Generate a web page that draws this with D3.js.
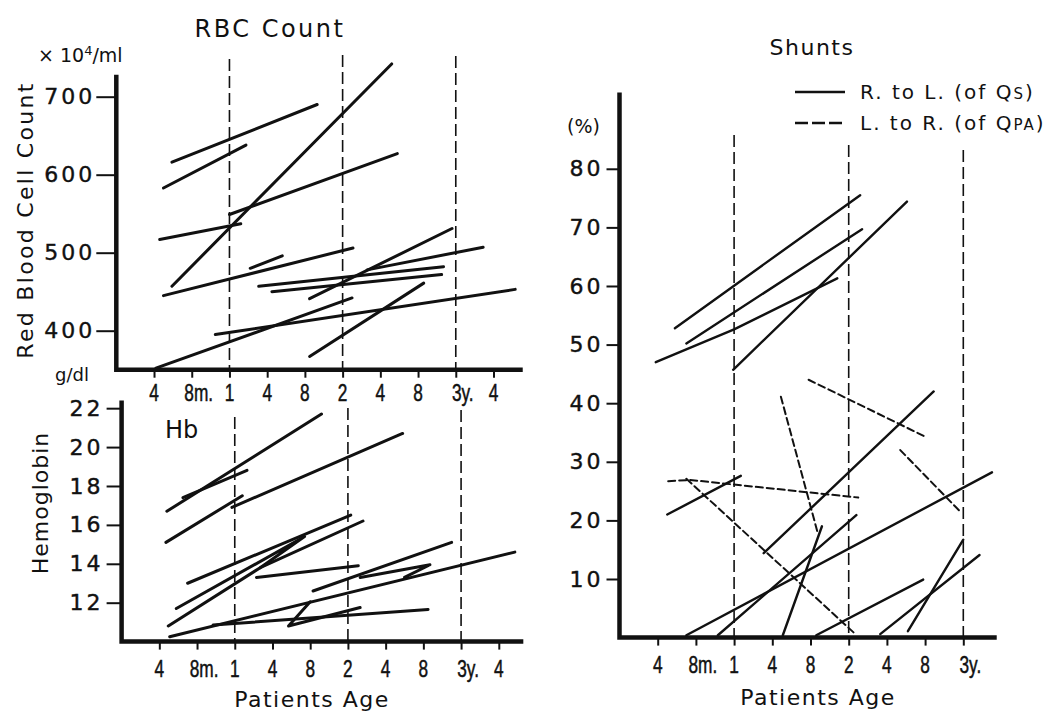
<!DOCTYPE html>
<html>
<head>
<meta charset="utf-8">
<script src="https://cdn.jsdelivr.net/npm/d3@7"></script>
<style>
body { margin: 0; background: #fff; }
</style>
</head>
<body>
<svg width="1059" height="712"></svg>
<script>
var svg = d3.select('svg');

// ages in months, ticks every 4 months
var ageTicks = [4, 8, 12, 16, 20, 24, 28, 32, 36, 40];
var ageLabels = ['4', '8m.', '1', '4', '8', '2', '4', '8', '3y.', '4'];
var yearLines = [12, 24, 36];

// RBC count (x10^4/ml), one polyline per patient: [month, value]
var rbcTicks = [400, 500, 600, 700];
var rbcPatients = [
    [[5.9, 616], [21.3, 690]],
    [[5.0, 583], [13.75, 638]],
    [[5.9, 457], [29.2, 742]],
    [[12.0, 549], [29.8, 627]],
    [[4.6, 517], [13.2, 537]],
    [[5.0, 445], [25.1, 506]],
    [[14.2, 480], [17.6, 496]],
    [[15.1, 457], [34.7, 482]],
    [[16.5, 450], [34.5, 472]],
    [[20.5, 441], [35.6, 531]],
    [[26.6, 478], [38.9, 507]],
    [[10.5, 395], [42.3, 453]],
    [[4.2, 352], [25.0, 442]],
    [[20.5, 367], [32.6, 461]]
];

// Hemoglobin (g/dl)
var hbTicks = [12, 14, 16, 18, 20, 22];
var hbPatients = [
    [[4.8, 16.7], [21.2, 21.7]],
    [[6.5, 17.4], [13.3, 18.8]],
    [[4.7, 15.1], [12.8, 17.5]],
    [[11.7, 16.9], [29.8, 20.7]],
    [[7.0, 13.0], [24.3, 16.5]],
    [[5.8, 11.7], [19.4, 15.4], [14.7, 13.8]],
    [[4.95, 10.8], [14.7, 13.8], [25.6, 16.2]],
    [[14.3, 13.3], [25.1, 13.9]],
    [[20.3, 12.6], [35.0, 15.1]],
    [[5.1, 10.25], [41.7, 14.6]],
    [[9.7, 10.85], [32.5, 11.65]],
    [[20.0, 12.05], [17.7, 10.8], [25.3, 11.75]],
    [[25.3, 13.3], [32.7, 13.95], [30.0, 13.3]]
];

// Shunts (%)
var shuntTicks = [10, 20, 30, 40, 50, 60, 70, 80];
var rlShunts = [
    [[5.8, 52.8], [25.2, 75.5]],
    [[7.0, 50.2], [25.4, 69.7]],
    [[3.8, 47.0], [12.0, 52.6], [22.8, 61.3]],
    [[11.9, 45.7], [30.1, 74.4]],
    [[5.0, 21.0], [12.7, 27.6]],
    [[15.1, 14.4], [32.9, 42.0]],
    [[7.0, 0.4], [39.0, 28.2]],
    [[10.3, 0.4], [24.8, 20.9]],
    [[17.1, 0.4], [21.2, 19.0]],
    [[20.6, 0.4], [31.8, 9.9]],
    [[27.3, 0.6], [37.7, 14.1]],
    [[30.2, 1.1], [36.0, 16.7]]
];
var lrShunts = [
    [[5.1, 26.7], [7.4, 26.9], [25.0, 23.9]],
    [[7.0, 27.1], [24.7, 0.6]],
    [[16.9, 41.1], [20.7, 18.2]],
    [[19.8, 44.0], [32.0, 34.3]],
    [[29.4, 32.0], [35.8, 21.3]]
];

var ink = '#111';
var sans = 'DejaVu Sans, Verdana, sans-serif';
var narrow = 'Liberation Sans, Arial, sans-serif';

function drawPanel(p) {
    var x = d3.scaleLinear().domain([0, p.xMax]).range([p.x0, p.x0 + p.xMax * p.pxMonth]);
    var y = d3.scaleLinear().domain(p.yDomain).range(p.yRange);
    var g = svg.append('g');
    var bottom = y(p.yDomain[0]);

    // dashed year guides
    g.selectAll('.guide')
        .data(yearLines)
        .enter()
        .append('line')
        .attr('x1', function(d){ return x(d); })
        .attr('x2', function(d){ return x(d); })
        .attr('y1', function(d, i){ return p.guideTop[i]; })
        .attr('y2', bottom)
        .attr('stroke', ink)
        .attr('stroke-width', 1.6)
        .attr('stroke-dasharray', '12,5');

    // y axis ticks and labels
    var yAxis = d3.axisLeft(y).tickValues(p.yTicks).tickSize(p.tickLen).tickPadding(p.pad);
    var yg = g.append('g').attr('transform', 'translate(' + x(0) + ',0)').call(yAxis);
    yg.select('.domain').remove();
    yg.selectAll('line').attr('stroke', ink).attr('stroke-width', 2);
    yg.selectAll('text')
        .attr('font-family', sans)
        .attr('font-size', 22)
        .attr('letter-spacing', 3)
        .attr('fill', ink)
        .attr('stroke', ink)
        .attr('stroke-width', 0.4);

    // x axis ticks
    var ticks = ageTicks.slice(0, p.nTicks);
    var xAxis = d3.axisBottom(x).tickValues(ticks).tickSize(8).tickFormat('');
    var xg = g.append('g').attr('transform', 'translate(0,' + bottom + ')').call(xAxis);
    xg.select('.domain').remove();
    xg.selectAll('line').attr('stroke', ink).attr('stroke-width', 2);

    // x labels, condensed
    g.selectAll('.xl')
        .data(ticks)
        .enter()
        .append('text')
        .attr('transform', function(d, i){
            var off = ageLabels[i].length > 1 ? 7 : 0;
            return 'translate(' + (x(d) + off) + ',' + p.labelY + ') scale(0.72,1)';
        })
        .attr('text-anchor', 'middle')
        .attr('font-family', narrow)
        .attr('font-size', 24)
        .attr('fill', ink)
        .attr('stroke', ink)
        .attr('stroke-width', 0.5)
        .text(function(d, i){ return ageLabels[i]; });

    // thick axis frame
    g.append('path')
        .attr('d', 'M' + x(0) + ',' + y(p.yTop) + 'V' + bottom + 'H' + x(p.xMax))
        .attr('fill', 'none')
        .attr('stroke', ink)
        .attr('stroke-width', 4.5);

    var line = d3.line()
        .x(function(d){ return x(d[0]); })
        .y(function(d){ return y(d[1]); });

    p.series.forEach(function(s){
        g.selectAll(null)
            .data(s.data)
            .enter()
            .append('path')
            .attr('d', line)
            .attr('fill', 'none')
            .attr('stroke', ink)
            .attr('stroke-width', s.width)
            .attr('stroke-linecap', 'round')
            .attr('stroke-linejoin', 'round')
            .attr('stroke-dasharray', s.dash || null);
    });
}

drawPanel({
    x0: 116.3, pxMonth: 9.43, xMax: 43.1,
    yDomain: [350, 730], yRange: [369.7, 73.3], yTop: 728,
    yTicks: rbcTicks, tickLen: 20, pad: 1,
    guideTop: [59, 55, 56], nTicks: 10, labelY: 401,
    series: [{ data: rbcPatients, width: 3 }]
});

drawPanel({
    x0: 121.6, pxMonth: 9.43, xMax: 42.6,
    yDomain: [10, 22.4], yRange: [641.6, 400.4], yTop: 22.4,
    yTicks: hbTicks, tickLen: 15, pad: 3,
    guideTop: [417, 408, 410], nTicks: 10, labelY: 677,
    series: [{ data: hbPatients, width: 3 }]
});

drawPanel({
    x0: 619.5, pxMonth: 9.55, xMax: 39.5,
    yDomain: [0, 93], yRange: [637.6, 92.6], yTop: 93,
    yTicks: shuntTicks, tickLen: 13, pad: 3,
    guideTop: [135, 145, 150], nTicks: 9, labelY: 673,
    series: [
        { data: rlShunts, width: 2.4 },
        { data: lrShunts, width: 2, dash: '7,4' }
    ]
});

// titles and labels
function label(txt, x, y, size, opts) {
    opts = opts || {};
    var t = svg.append('text')
        .attr('x', x)
        .attr('y', y)
        .attr('font-family', sans)
        .attr('font-size', size)
        .attr('fill', ink)
        .attr('text-anchor', opts.anchor || 'start')
        .attr('letter-spacing', opts.ls || 0)
        .text(txt);
    if (opts.rotate) {
        t.attr('x', 0).attr('y', 0)
            .attr('transform', 'translate(' + x + ',' + y + ') rotate(-90)');
    }
    return t;
}

label('RBC Count', 270, 37, 24, { anchor: 'middle', ls: 2.5 });
label('Shunts', 812, 55, 22, { anchor: 'middle', ls: 1.5 });
label('Red Blood Cell Count', 33, 220, 22, { anchor: 'middle', ls: 2.3, rotate: true });
label('Hemoglobin', 48, 503, 22, { anchor: 'middle', ls: 1, rotate: true });
label('Hb', 165, 438, 24);
label('g/dl', 55, 381, 18);
label('(%)', 567, 133, 19);
label('Patients Age', 312, 707, 22, { anchor: 'middle', ls: 1.5 });
label('Patients Age', 818, 705, 22, { anchor: 'middle', ls: 1.5 });

var unit = label('\u00d7 10', 38, 62, 19);
unit.append('tspan').attr('dy', -7).attr('font-size', 13).text('4');
unit.append('tspan').attr('dy', 7).text('/ml');

// legend
svg.append('line')
    .attr('x1', 795).attr('x2', 845).attr('y1', 92).attr('y2', 92)
    .attr('stroke', ink).attr('stroke-width', 2.4);
svg.append('line')
    .attr('x1', 795).attr('x2', 845).attr('y1', 123).attr('y2', 123)
    .attr('stroke', ink).attr('stroke-width', 2.4).attr('stroke-dasharray', '13,4');

var l1 = label('R. to L. (of Q', 860, 99, 20, { ls: 2 });
l1.append('tspan').attr('font-size', 15).text('S');
l1.append('tspan').text(')');
var l2 = label('L. to R. (of Q', 860, 130, 20, { ls: 2 });
l2.append('tspan').attr('font-size', 15).text('PA');
l2.append('tspan').text(')');
</script>
</body>
</html>
